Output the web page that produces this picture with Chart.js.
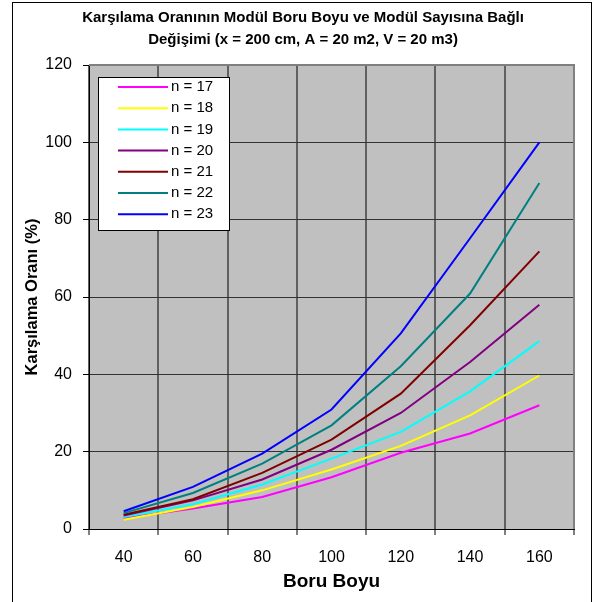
<!DOCTYPE html>
<html lang="tr">
<head>
<meta charset="utf-8">
<title>Karşılama Oranı</title>
<script src="https://cdn.jsdelivr.net/npm/chart.js@4/dist/chart.umd.min.js"></script>
<style>
  html, body { margin: 0; padding: 0; background: #fff; }
  #wrap { width: 594px; height: 602px; position: relative; }
</style>
</head>
<body>
<div id="wrap"><canvas id="chart-karsilama"></canvas></div>
<script>
/* Karşılama oranı — modül boru boyu ve modül sayısı (n) */

const boruBoyu = ['40', '60', '80', '100', '120', '140', '160'];

const n17 = [2.8, 5.3,  8.3, 13.4, 19.7, 24.7,  32.0];
const n18 = [2.4, 5.7, 10.0, 15.4, 21.5, 29.4,  39.7];
const n19 = [3.1, 6.4, 11.5, 18.2, 25.1, 35.6,  48.6];
const n20 = [3.5, 7.4, 12.8, 20.5, 30.0, 43.2,  58.0];
const n21 = [3.7, 7.7, 14.5, 23.1, 35.0, 52.7,  71.8];
const n22 = [4.1, 9.3, 16.9, 26.8, 42.1, 60.9,  89.5];
const n23 = [4.6, 10.9, 19.5, 30.9, 50.6, 75.2, 100.0];

const seriLabel = ['n = 17', 'n = 18', 'n = 19', 'n = 20', 'n = 21', 'n = 22', 'n = 23'];
const seriData  = [n17, n18, n19, n20, n21, n22, n23];
const seriWarna = ['#FF00FF', '#FFFF00', '#00FFFF', '#800080', '#800000', '#008080', '#0000FF'];

const FONT = "'Liberation Sans', Arial, sans-serif";

// ── Latar, bingkai & legenda ───────────────────────────────────
const bingkaiPlugin = {
  id: 'bingkai',
  beforeDraw(chart) {
    const { ctx, chartArea: a } = chart;
    ctx.save();
    ctx.fillStyle = '#fff';
    ctx.fillRect(0, 0, chart.width, chart.height);
    ctx.strokeStyle = '#000';
    ctx.lineWidth   = 1;
    ctx.strokeRect(12.5, 2.5, 579, 640);
    ctx.fillStyle = '#C0C0C0';
    ctx.fillRect(a.left, a.top, a.right - a.left, a.bottom - a.top);
    ctx.restore();
  },
  beforeDatasetsDraw(chart) {
    const { ctx, chartArea: a } = chart;
    ctx.save();
    ctx.strokeStyle = '#808080';
    ctx.lineWidth   = 2;
    ctx.beginPath();
    ctx.moveTo(a.left, a.top);
    ctx.lineTo(a.right, a.top);
    ctx.lineTo(a.right, a.bottom);
    ctx.stroke();
    ctx.restore();
  },
  afterDraw(chart) {
    const { ctx } = chart;
    const box = { x: 98.5, y: 77.5, w: 131, h: 153 };
    ctx.save();
    ctx.fillStyle   = '#fff';
    ctx.strokeStyle = '#000';
    ctx.lineWidth   = 1;
    ctx.fillRect(box.x, box.y, box.w, box.h);
    ctx.strokeRect(box.x, box.y, box.w, box.h);
    ctx.font         = `15px ${FONT}`;
    ctx.textBaseline = 'middle';
    ctx.textAlign    = 'left';
    chart.data.datasets.forEach((ds, i) => {
      const y = 87 + i * 21.2;
      ctx.strokeStyle = ds.borderColor;
      ctx.lineWidth   = 2;
      ctx.beginPath();
      ctx.moveTo(118, y);
      ctx.lineTo(168, y);
      ctx.stroke();
      ctx.fillStyle = '#000';
      ctx.fillText(ds.label, 171, y);
    });
    ctx.restore();
  },
};

new Chart(document.getElementById('chart-karsilama'), {
  type: 'line',
  data: {
    labels: boruBoyu,
    datasets: seriData.map((d, i) => ({
      label:       seriLabel[i],
      data:        d,
      borderColor: seriWarna[i],
      borderWidth: 2,
      pointRadius: 0,
      tension:     0,
      fill:        false,
      order:       seriData.length - i,
    })),
  },
  options: {
    responsive:          true,
    maintainAspectRatio: false,
    animation:           false,
    // padding kiri 32 supaya judul berada di tengah area 32..574
    layout: { padding: { left: 32, right: 20, top: 0, bottom: 0 } },
    plugins: {
      legend:  { display: false },
      tooltip: { enabled: false },
      title: {
        display: true,
        text: [
          'Karşılama Oranının Modül Boru Boyu ve Modül Sayısına Bağlı',
          'Değişimi (x = 200 cm, A = 20 m2, V = 20 m3)',
        ],
        color:   '#000',
        font:    { family: FONT, size: 15, weight: 'bold', lineHeight: 1.4667 },
        padding: { top: 7, bottom: 14 },
      },
    },
    scales: {
      x: {
        offset: true,
        grid: {
          offset:     true,
          color:      '#606060',
          lineWidth:  2,
          tickColor:  '#000',
          tickLength: 6,
          tickWidth:  1,
        },
        border: { color: '#000', width: 1 },
        ticks: {
          color:       '#000',
          padding:     13,
          maxRotation: 0,
          font:        { family: FONT, size: 16 },
        },
        title: {
          display: true,
          text:    'Boru Boyu',
          color:   '#000',
          font:    { family: FONT, size: 19, weight: 'bold' },
          padding: { top: 9, bottom: 9 },
        },
        afterFit: (scale) => { scale.height = 73; },
      },
      y: {
        min: 0,
        max: 120,
        grid: {
          color:      '#333',
          lineWidth:  1,
          tickColor:  '#000',
          tickLength: 6,
        },
        border: { color: '#000', width: 1 },
        ticks: {
          stepSize: 20,
          color:    '#000',
          padding:  11,
          font:     { family: FONT, size: 16 },
        },
        title: {
          display: true,
          text:    'Karşılama Oranı (%)',
          color:   '#000',
          font:    { family: FONT, size: 16.5, weight: 'bold' },
          padding: { top: -9, bottom: 0 },
        },
        afterFit: (scale) => { scale.width = 57; },
      },
    },
  },
  plugins: [bingkaiPlugin],
});
</script>
</body>
</html>
